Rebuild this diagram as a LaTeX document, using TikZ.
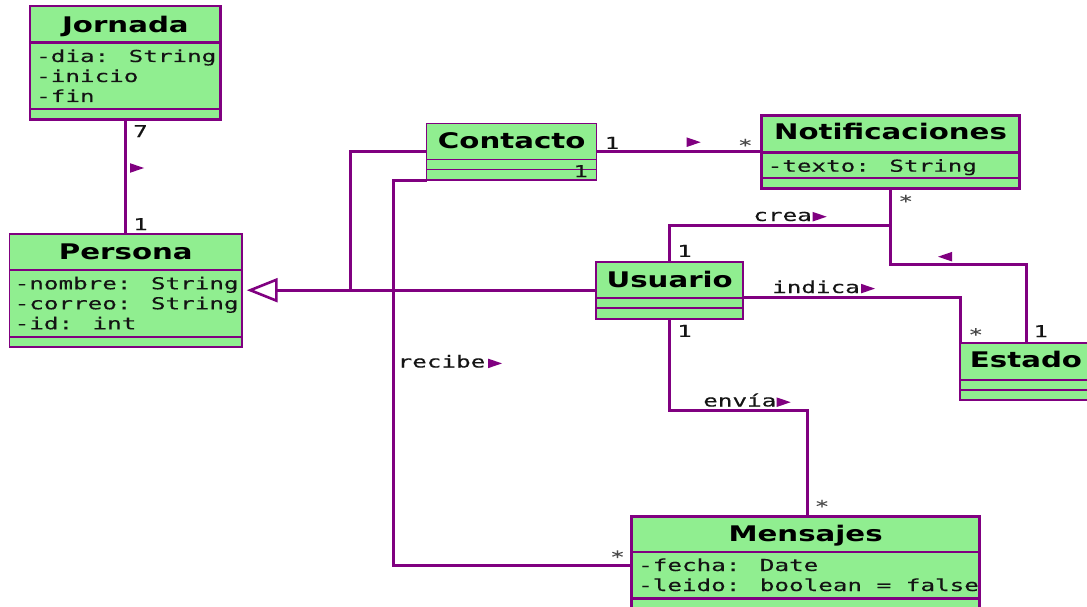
\documentclass[tikz,border=0pt]{standalone}
\usepackage{fontspec}
\usetikzlibrary{arrows.meta,fit,calc}
\newfontfamily\umlmono{DejaVu Sans Mono}[FakeStretch=1.47, FakeBold=0.3]
\newfontfamily\umltitle{DejaVu Sans}[UprightFont=* Bold, FakeStretch=1.36]
\definecolor{umlpurple}{HTML}{800080}
\definecolor{umlgreen}{HTML}{90EE90}
\definecolor{umltext}{HTML}{141414}
\definecolor{umlstar}{HTML}{4A4A4A}

\tikzset{
  classbox/.style={draw=umlpurple, fill=umlgreen, rectangle, inner sep=0pt, outer sep=0pt},
  compline/.style={draw=umlpurple},
  classname/.style={font={\umltitle\fontsize{21.5}{24}\selectfont}, text=black, inner sep=0pt, anchor=base},
  attr/.style={font={\umlmono\fontsize{16.5}{20}\selectfont}, text=umltext, inner sep=0pt, anchor=base west},
  mult/.style={font={\umlmono\fontsize{16.5}{20}\selectfont}, text=umltext, inner sep=0pt, anchor=base},
  star/.style={mult, text=umlstar},
  assoclabel/.style={font={\umlmono\fontsize{16.5}{20}\selectfont}, text=umltext, inner sep=0pt, anchor=base east},
  assoc/.style={draw=umlpurple, line width=3pt},
  rtri/.pic={\fill[umlpurple] (0,-4.8) -- (14,0) -- (0,4.8) -- cycle;},
  ltri/.pic={\fill[umlpurple] (0,0) -- (14,-4.8) -- (14,4.8) -- cycle;},
}

\begin{document}
\begin{tikzpicture}[x=1pt, y=-1pt]
\useasboundingbox (0,0) rectangle (1087,607);
\clip (0,0) rectangle (1087,607);

% ---------- classes ----------
% Jornada
\node[classbox, line width=2.7pt, fit={(30,6) (220.7,119.5)}] (jornada) {};
\draw[compline, line width=2.7pt] (30,42.7) -- (220.7,42.7);
\draw[compline, line width=2.7pt] (30,109) -- (220.7,109);
\node[classname] (jornadaT) at (125.4,32.3) {Jornada};
\node[attr] (jornadaA1) at (36,62) {-dia: String};
\node[attr] (jornadaA2) at (36,82) {-inicio};
\node[attr] (jornadaA3) at (36,102) {-fin};

% Persona
\node[classbox, line width=1.4pt, fit={(9.7,234) (242,347)}] (persona) {};
\draw[compline, line width=1.4pt] (9.7,270) -- (242,270);
\draw[compline, line width=1.4pt] (9.7,337) -- (242,337);
\node[classname] (personaT) at (125.8,259.3) {Persona};
\node[attr] (personaA1) at (14.5,289.3) {-nombre: String};
\node[attr] (personaA2) at (14.5,309.3) {-correo: String};
\node[attr] (personaA3) at (14.5,329.3) {-id: int};

% Contacto
\node[classbox, line width=1.4pt, fit={(426.7,123.3) (596.7,180)}] (contacto) {};
\draw[compline, line width=1.4pt] (426.7,159.3) -- (596.7,159.3);
\draw[compline, line width=1.4pt] (426.7,169.3) -- (596.7,169.3);
\node[classname] (contactoT) at (511.7,148.5) {Contacto};

% Notificaciones
\node[classbox, line width=2.7pt, fit={(761.7,115.7) (1019.3,188.3)}] (notif) {};
\draw[compline, line width=2.7pt] (761.7,152.3) -- (1019.3,152.3);
\draw[compline, line width=2.7pt] (761.7,178) -- (1019.3,178);
\node[classname] (notifT) at (890.5,140) {Notificaciones};
\node[attr] (notifA1) at (767.5,171.7) {-texto: String};

% Usuario
\node[classbox, line width=2pt, fit={(596,261.7) (743.3,318.7)}] (usuario) {};
\draw[compline, line width=2pt] (596,298.3) -- (743.3,298.3);
\draw[compline, line width=2pt] (596,308.3) -- (743.3,308.3);
\node[classname] (usuarioT) at (669.7,287) {Usuario};

% Estado
\node[classbox, line width=1.8pt, fit={(960,343.3) (1092,400)}] (estado) {};
\draw[compline, line width=1.8pt] (960,380) -- (1092,380);
\draw[compline, line width=1.8pt] (960,389.7) -- (1092,389.7);
\node[classname] (estadoT) at (1026,367.3) {Estado};

% Mensajes
\node[classbox, line width=2.7pt, fit={(631.5,516.7) (979.8,614)}] (mensajes) {};
\draw[compline, line width=2.7pt] (631.5,552) -- (979.8,552);
\draw[compline, line width=2.7pt] (631.5,598.7) -- (979.8,598.7);
\node[classname] (mensajesT) at (805.6,541.7) {Mensajes};
\node[attr] (mensajesA1) at (638,571) {-fecha: Date};
\node[attr] (mensajesA2) at (638,591) {-leido: boolean = false};

% ---------- relations ----------
% Jornada -- Persona
\draw[assoc] (jornada.south) -- (jornada.south |- persona.north);
\pic at (130,168) {rtri};
\node[mult] (mJornada) at (140.5,137.2) {7};
\node[mult] (mPersona) at (140.5,230.2) {1};

% generalisation: Usuario and Contacto specialise Persona
\coordinate (genjoin) at ($(usuario.west)+(-246,0)$);
\draw[assoc, -{Triangle[open, length=31pt, width=24pt, line width=2.6pt]}]
  (usuario.west) -- ($(persona.east |- usuario.west)+(4.7,0)$);
\draw[assoc] (contacto.west) -| (genjoin);

% Contacto -- Notificaciones
\draw[assoc] (contacto.east) -- (notif.west |- contacto.east);
\pic at (686.7,142.2) {rtri};
\node[mult] (mContactoN) at (612,148.9) {1};
\node[star] (mNotifC) at (745.3,151.1) {*};

% recibe: Contacto -- Mensajes
\draw[assoc] (contacto.south west) -- ++(-33.7,0) |- (mensajes.west);
\node[assoclabel] (lrecibe) at (485.5,367.5) {recibe};
\pic at (488,363.4) {rtri};
\node[mult] (mContactoR) at (580.7,177.2) {1};
\node[star] (mMensajesR) at (617.5,562.7) {*};

% crea: Usuario -- Notificaciones
\coordinate (creajoin) at ($(notif.south)+(0,37.4)$);
\draw[assoc] (usuario.north) |- (creajoin);
\node[assoclabel] (lcrea) at (812,221) {crea};
\pic at (812.7,216.7) {rtri};
\node[mult] (mUsuarioC) at (684.5,256.9) {1};
\node[star] (mNotifU) at (905.8,207.1) {*};

% Notificaciones -- Estado
\coordinate (notifbend) at ($(notif.south)+(0,76.4)$);
\draw[assoc] (notif.south) -- (notifbend) -| (estado.north);
\pic at (938,256.7) {ltri};
\node[mult] (mEstadoN) at (1040.8,337.2) {1};

% indica: Usuario -- Estado
\draw[assoc] ($(usuario.east)+(0,7)$) -| (estado.north west);
\node[assoclabel] (lindica) at (860,293) {indica};
\pic at (861,288.6) {rtri};
\node[star] (mEstadoU) at (975.8,340.4) {*};

% envía: Usuario -- Mensajes
\coordinate (enviabend) at (807.6,410);
\draw[assoc] (usuario.south) |- (enviabend) -- (enviabend |- mensajes.north);
\node[assoclabel] (lenvia) at (776.5,406.5) {envía};
\pic at (776.7,402.2) {rtri};
\node[mult] (mUsuarioE) at (684.5,336.9) {1};
\node[star] (mMensajesE) at (822,512.1) {*};
\end{tikzpicture}
\end{document}
